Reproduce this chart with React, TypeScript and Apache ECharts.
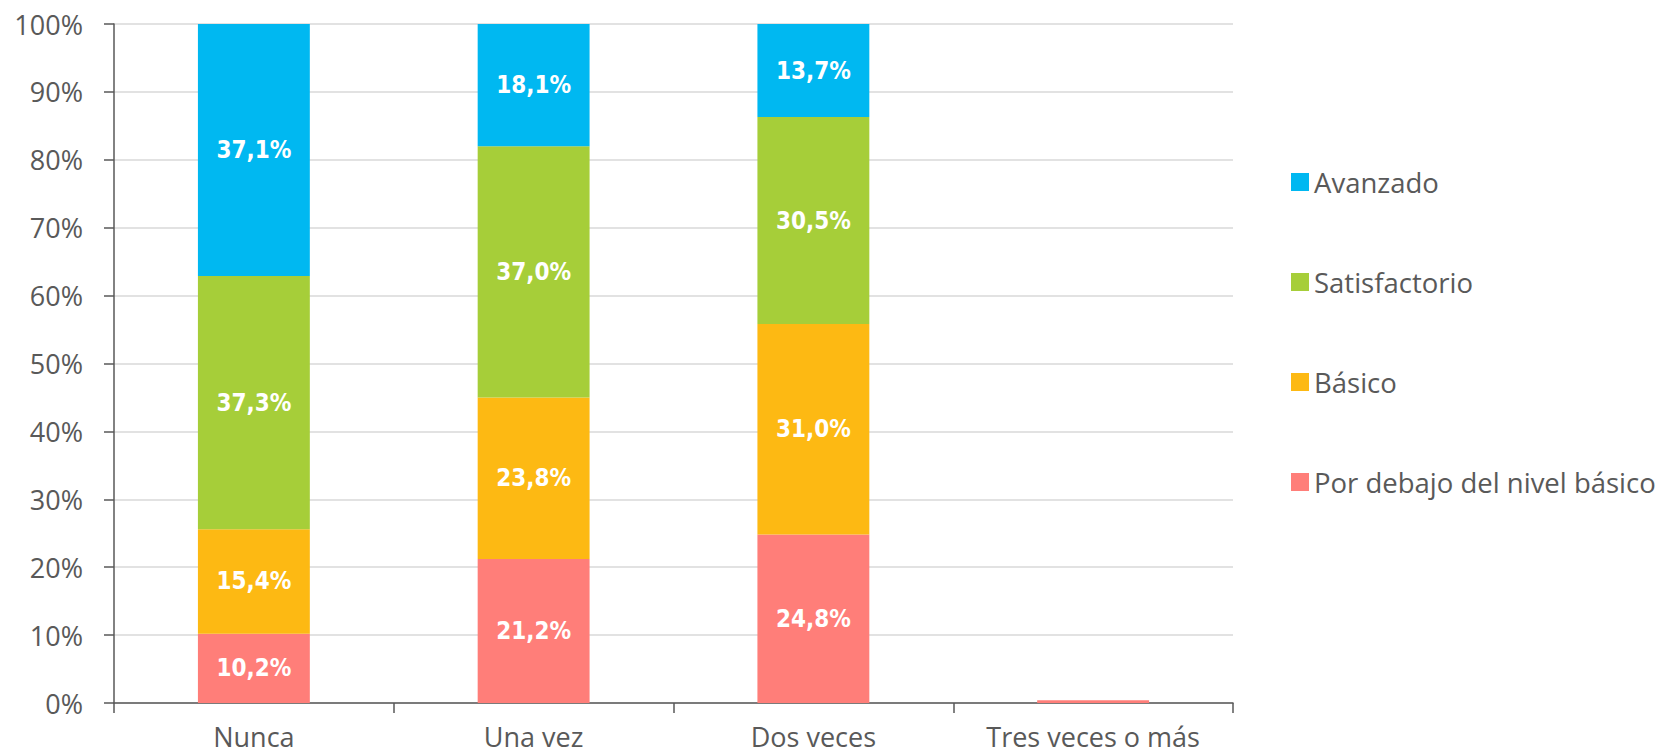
import React, { useEffect, useRef } from "react";
import * as echarts from "echarts";

const categories = ["Nunca", "Una vez", "Dos veces", "Tres veces o más"];
const porDebajo = [10.2, 21.2, 24.8, 0.4];
const basico = [15.4, 23.8, 31.0, 0];
const satisfactorio = [37.3, 37.0, 30.5, 0];
const avanzado = [37.1, 18.1, 13.7, 0];
const legendOrder = ["Avanzado", "Satisfactorio", "Básico", "Por debajo del nivel básico"];

const FONT = "'Open Sans', 'Noto Sans', sans-serif";
const TEXT = "#595959";

export default function App() {
  const ref = useRef<HTMLDivElement>(null);
  useEffect(() => {
    if (!ref.current) return;
    const chart = echarts.init(ref.current, undefined, { renderer: "svg" });
    const label = {
      show: true,
      position: "inside",
      color: "#ffffff",
      fontWeight: "bold",
      fontSize: 24,
      fontFamily: "'Liberation Sans Narrow', 'DejaVu Sans Condensed', sans-serif",
      formatter: (p: any) => (p.value > 1 ? p.value.toFixed(1).replace(".", ",") + "%" : ""),
    };
    const mk = (name: string, data: number[], color: string) => ({
      name,
      type: "bar",
      stack: "total",
      data,
      barWidth: "40%",
      itemStyle: { color },
      label,
    });
    chart.setOption({
      animation: false,
      textStyle: { fontFamily: FONT },
      grid: { left: 114, top: 24, right: 430, bottom: 53, containLabel: false },
      legend: {
        orient: "vertical",
        left: 1291,
        top: 168,
        padding: 0,
        itemWidth: 18,
        itemHeight: 18,
        itemGap: 72,
        itemTextGap: 8,
        data: legendOrder,
        icon: "rect",
        textStyle: { fontSize: 27.5, color: TEXT, fontFamily: FONT, lineHeight: 28 },
      },
      xAxis: {
        type: "category",
        data: categories,
        axisLine: { lineStyle: { color: TEXT, width: 1.5 } },
        axisTick: { show: true, length: 10, alignWithLabel: false, lineStyle: { color: TEXT, width: 1.5 } },
        axisLabel: { fontSize: 27, color: TEXT, fontFamily: FONT, margin: 18, lineHeight: 30 },
      },
      yAxis: {
        type: "value",
        min: 0,
        max: 100,
        interval: 10,
        axisLine: { show: true, lineStyle: { color: TEXT, width: 1.5 } },
        axisTick: { show: true, length: 10, lineStyle: { color: TEXT, width: 1.5 } },
        axisLabel: { fontSize: 27, color: TEXT, fontFamily: FONT, margin: 31, formatter: "{value}%" },
        splitLine: { lineStyle: { color: "#d9d9d9", width: 1.5 } },
      },
      series: [
        mk("Por debajo del nivel básico", porDebajo, "#FF7E79"),
        mk("Básico", basico, "#FDB913"),
        mk("Satisfactorio", satisfactorio, "#A6CE39"),
        mk("Avanzado", avanzado, "#00B8F1"),
      ],
    });
    return () => chart.dispose();
  }, []);
  return (
    <div
      ref={ref}
      style={{ position: "absolute", left: 0, top: 0, width: 1663, height: 756, background: "#fff" }}
    />
  );
}
